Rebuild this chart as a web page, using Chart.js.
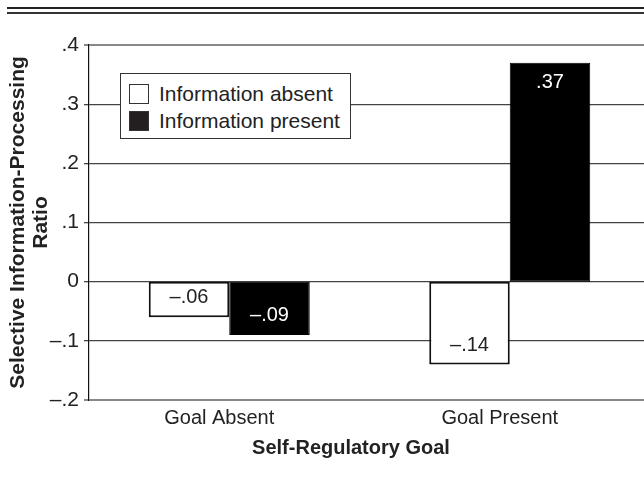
<!DOCTYPE html>
<html>
<head>
<meta charset="utf-8">
<script src="https://cdn.jsdelivr.net/npm/chart.js@4"></script>
<style>
  html, body { margin: 0; padding: 0; background: #fff; overflow: hidden; }
  #page { position: relative; width: 644px; height: 479px; overflow: hidden; font-family: "Liberation Sans", Arial, sans-serif; color: #222; }
  #wrap { position: absolute; left: 0; top: 0; width: 652px; height: 479px; }
  .rule { position: absolute; left: 7px; right: 0; background: #222; }
  #legend { position: absolute; left: 120px; top: 73px; width: 229px; height: 64px; background: #fff; border: 1px solid #333; box-sizing: content-box; }
  #legend .item { position: absolute; left: 8px; height: 26px; display: flex; align-items: center; font-size: 21px; white-space: nowrap; }
  #legend .sw { width: 18px; height: 18px; margin-right: 10px; border: 1.5px solid #333; }
  #xtitle { position: absolute; left: 231px; width: 240px; top: 435px; line-height: 24px; text-align: center; font-weight: bold; font-size: 20px; }
</style>
</head>
<body>
<div id="page">
  <div id="wrap"><canvas id="chartCanvas"></canvas></div>
  <div class="rule" style="top:7px;height:2px"></div>
  <div class="rule" style="top:12px;height:1.5px;background:#333"></div>
  <div id="legend"></div>
  <div id="xtitle"></div>
</div>
<script>
// dữ liệu
const categories = ['Goal Absent', 'Goal Present'];
const seriesNames = ['Information absent', 'Information present'];
const infoAbsent = [-0.06, -0.14];
const infoPresent = [-0.09, 0.37];
const barFills = ['#ffffff', '#000000'];
const yMin = -0.2;
const yMax = 0.4;
const yStep = 0.1;
const yTitle = ['Selective Information-Processing', 'Ratio'];
const xTitle = 'Self-Regulatory Goal';

// định dạng kiểu ".37", "–.06", "0"
function fmt(v, digits) {
    const r = Number(v.toFixed(digits));
    if (r === 0) return '0';
    const s = Math.abs(r).toFixed(digits).replace(/^0/, '');
    return (r < 0 ? '\u2013' : '') + s;
}

// nhãn giá trị bên trong đầu cột
const barLabels = {
    id: 'barLabels',
    afterDatasetsDraw(chart) {
        const ctx = chart.ctx;
        ctx.save();
        ctx.font = '20px "Liberation Sans", Arial, sans-serif';
        ctx.textAlign = 'center';
        ctx.textBaseline = 'middle';
        chart.data.datasets.forEach((ds, i) => {
            chart.getDatasetMeta(i).data.forEach((bar, j) => {
                const dir = Math.sign(bar.base - bar.y);
                ctx.fillStyle = i === 0 ? '#222' : '#fff';
                ctx.fillText(fmt(ds.data[j], 2), bar.x, bar.y + dir * 19.5);
            });
        });
        ctx.restore();
    }
};

function gridColor(c) {
    const v = Math.round(c.tick.value * 10) / 10;
    return (v === yMax || v === yMin) ? '#888' : '#444';
}

window.addEventListener('load', () => {
    const ctx = document.getElementById('chartCanvas').getContext('2d');
    const chart = new Chart(ctx, {
        type: 'bar',
        data: {
            labels: categories,
            datasets: [
                { label: seriesNames[0], data: infoAbsent, backgroundColor: barFills[0], borderColor: '#111', borderWidth: 2, borderSkipped: false },
                { label: seriesNames[1], data: infoPresent, backgroundColor: barFills[1], borderColor: '#000', borderWidth: 1, borderSkipped: false }
            ]
        },
        options: {
            responsive: true,
            maintainAspectRatio: false,
            animation: false,
            layout: { padding: { top: 45, right: 2, left: 0, bottom: 0 } },
            datasets: { bar: { categoryPercentage: 0.574, barPercentage: 1.0 } },
            plugins: {
                legend: { display: false },
                tooltip: { enabled: false }
            },
            scales: {
                x: {
                    grid: { display: false, drawTicks: false },
                    border: { display: false },
                    ticks: {
                        color: '#222',
                        padding: 6,
                        labelOffset: -10,
                        font: { family: '"Liberation Sans", Arial, sans-serif', size: 20 }
                    },
                    afterFit: scale => { scale.height = 79; }
                },
                y: {
                    min: yMin,
                    max: yMax,
                    grid: {
                        color: gridColor,
                        lineWidth: c => (gridColor(c) === '#888' ? 2 : 1.3),
                        tickLength: 5
                    },
                    border: { color: '#111', width: 1.2 },
                    ticks: {
                        stepSize: yStep,
                        color: '#222',
                        padding: 5,
                        font: { family: '"Liberation Sans", Arial, sans-serif', size: 21 },
                        callback: v => fmt(v, 1)
                    },
                    title: {
                        display: true,
                        text: yTitle,
                        color: '#222',
                        padding: { top: 7, bottom: 0 },
                        font: { family: '"Liberation Sans", Arial, sans-serif', size: 21, weight: 'bold', lineHeight: 1.1 }
                    },
                    afterFit: scale => { scale.width = 89; }
                }
            }
        },
        plugins: [barLabels]
    });

    // chú thích HTML lấy từ các dataset
    const legend = document.getElementById('legend');
    chart.data.datasets.forEach((ds, i) => {
        const row = document.createElement('div');
        row.className = 'item';
        row.style.top = (7 + i * 26.5) + 'px';
        const sw = document.createElement('span');
        sw.className = 'sw';
        sw.style.background = i === 0 ? '#fff' : '#231f20';
        row.appendChild(sw);
        row.appendChild(document.createTextNode(ds.label));
        legend.appendChild(row);
    });
    document.getElementById('xtitle').textContent = xTitle;
});
</script>
</body>
</html>
